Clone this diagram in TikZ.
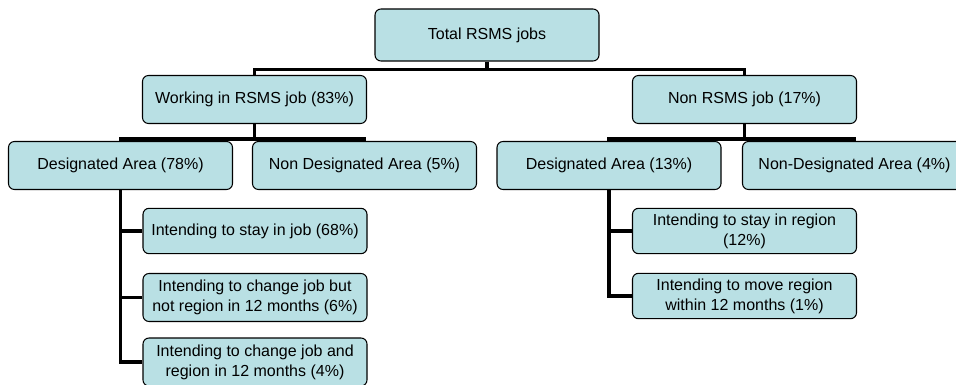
\documentclass[tikz,border=0pt]{standalone}
\usepackage{fontspec}
\setmainfont{Liberation Sans}
\usepackage{tikz}
\definecolor{boxfill}{RGB}{185,224,228}

\begin{document}
\begin{tikzpicture}[x=0.75pt,y=-0.75pt,
    box/.style={draw=black,line width=0.8pt,fill=boxfill,rounded corners=4.5pt,
        minimum width=168pt,minimum height=36pt,inner sep=0pt,align=center,
        font=\fontsize{12}{15}\selectfont},
    conn/.style={draw=black,line width=2.4pt}]
    \useasboundingbox (0,0) rectangle (956,385);
    % top level
    \node[box,minimum height=39pt] (total) at (487,35) {Total RSMS jobs};
    \node[box] (work) at (254.5,99.5) {Working in RSMS job (83\%)};
    \node[box] (nonrsms) at (744.5,99.5) {Non RSMS job (17\%)};
    % areas
    \node[box] (da78) at (120.5,165.5) {Designated Area (78\%)};
    \node[box] (nda5) at (364.5,165.5) {Non Designated Area (5\%)};
    \node[box] (da13) at (609,165.5) {Designated Area (13\%)};
    \node[box] (nda4) at (854.5,165.5) {Non-Designated Area (4\%)};
    % intentions
    \node[box,minimum height=34pt] (stayjob) at (255,231) {Intending to stay in job (68\%)};
    \node[box] (changejob) at (255,297.5) {Intending to change job but\\not region in 12 months (6\%)};
    \node[box] (changeboth) at (255,362) {Intending to change job and\\region in 12 months (4\%)};
    \node[box,minimum height=34pt] (stayreg) at (744.5,231) {Intending to stay in region\\(12\%)};
    \node[box,minimum height=34pt] (movereg) at (744.5,296) {Intending to move region\\within 12 months (1\%)};

    \draw[conn] (total.south) -- ++(0,8) -| (work.north);
    \draw[conn] (total.south) -- ++(0,8) -| (nonrsms.north);
    \draw[conn] (work.south) -- ++(0,15) -| (da78.north);
    \draw[conn] (work.south) -- ++(0,15) -| (nda5.north);
    \draw[conn] (nonrsms.south) -- ++(0,15) -| (da13.north);
    \draw[conn] (nonrsms.south) -- ++(0,15) -| (nda4.north);
    \draw[conn] (da78.south) |- (stayjob.west);
    \draw[conn] (da78.south) |- (changejob.west);
    \draw[conn] (da78.south) |- (changeboth.west);
    \draw[conn] (da13.south) |- (stayreg.west);
    \draw[conn] (da13.south) |- (movereg.west);
\end{tikzpicture}
\end{document}
